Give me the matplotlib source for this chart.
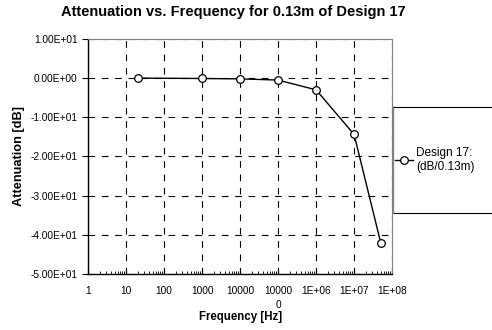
import matplotlib.pyplot as plt
import matplotlib.ticker as mticker
from matplotlib.patches import Rectangle
import numpy as np

plt.rcParams['font.family'] = ['Liberation Sans', 'DejaVu Sans']

# datos
frecuencia = [20, 1000, 10000, 100000, 1e6, 1e7, 5e7]
atenuacion = [0.0, -0.1, -0.2, -0.5, -3.0, -14.4, -42.0]
xticks = [1, 10, 100, 1000, 10000, 100000, 1e6, 1e7, 1e8]
xlabels = ['1', '10', '100', '1000', '10000', '10000\n0', '1E+06', '1E+07', '1E+08']
yticks = [10, 0, -10, -20, -30, -40, -50]

fig = plt.figure(figsize=(4.92, 3.30), dpi=100)
ax = fig.add_axes([0.179, 0.170, 0.618, 0.712])

ax.plot(frecuencia, atenuacion, color='black', lw=1.0, marker='o', ms=5.5,
        mfc='white', mec='black', mew=0.9, label='Design 17:\n(dB/0.13m)')

ax.set_xscale('log')
ax.set_xlim(1, 1e8)
ax.set_ylim(-50, 10)
ax.set_xticks(xticks)
ax.set_xticklabels(xlabels, fontsize=7.3, linespacing=1.5)
ax.xaxis.set_minor_locator(mticker.LogLocator(base=10, subs=np.arange(2, 10), numticks=20))
ax.xaxis.set_minor_formatter(mticker.NullFormatter())
ax.set_yticks(yticks)
ax.set_yticklabels([f'{v:.2E}' for v in yticks], fontsize=7.3)

ax.tick_params(axis='x', which='major', direction='in', length=4, width=0.8, pad=9)
ax.tick_params(axis='x', which='minor', direction='in', length=2.5, width=0.6)
ax.tick_params(axis='y', which='major', direction='out', length=4, width=0.8)

# cuadricula discontinua
ax.grid(True, which='major', color='black', linestyle=(0, (6, 6)), linewidth=0.8)

for s in ['top', 'right']:
    ax.spines[s].set_color('gray')
    ax.spines[s].set_linewidth(0.8)
for s in ['left', 'bottom']:
    ax.spines[s].set_color('black')
    ax.spines[s].set_linewidth(1.0)

ax.set_xlabel('Frequency [Hz]', fontsize=8.3, fontweight='bold', labelpad=0.5)
ax.set_ylabel('Attenuation [dB]', fontsize=9.2, fontweight='bold', labelpad=4)
fig.suptitle('Attenuation vs. Frequency for 0.13m of Design 17', fontsize=10.5,
             fontweight='bold', x=0.474, y=0.985)

# caja de leyenda fuera del area del grafico
caja = Rectangle((393 / 492, 1 - 213 / 330), 0.3, 106 / 330, transform=fig.transFigure,
                 facecolor='white', edgecolor='black', linewidth=0.8, clip_on=False, zorder=-2)
fig.add_artist(caja)
fig.add_artist(plt.Line2D([393 / 492, 393 / 492], [1 - 213 / 330, 1 - 107 / 330],
                          transform=fig.transFigure, color='gray', lw=1.5, zorder=-1))
ax.legend(loc='center left', bbox_to_anchor=(395 / 492, 1 - 160 / 330),
          bbox_transform=fig.transFigure, frameon=False, fontsize=8.5,
          handlelength=1.5, handletextpad=0.3, borderpad=0, borderaxespad=0)

fig.savefig('out.png', dpi=100)
